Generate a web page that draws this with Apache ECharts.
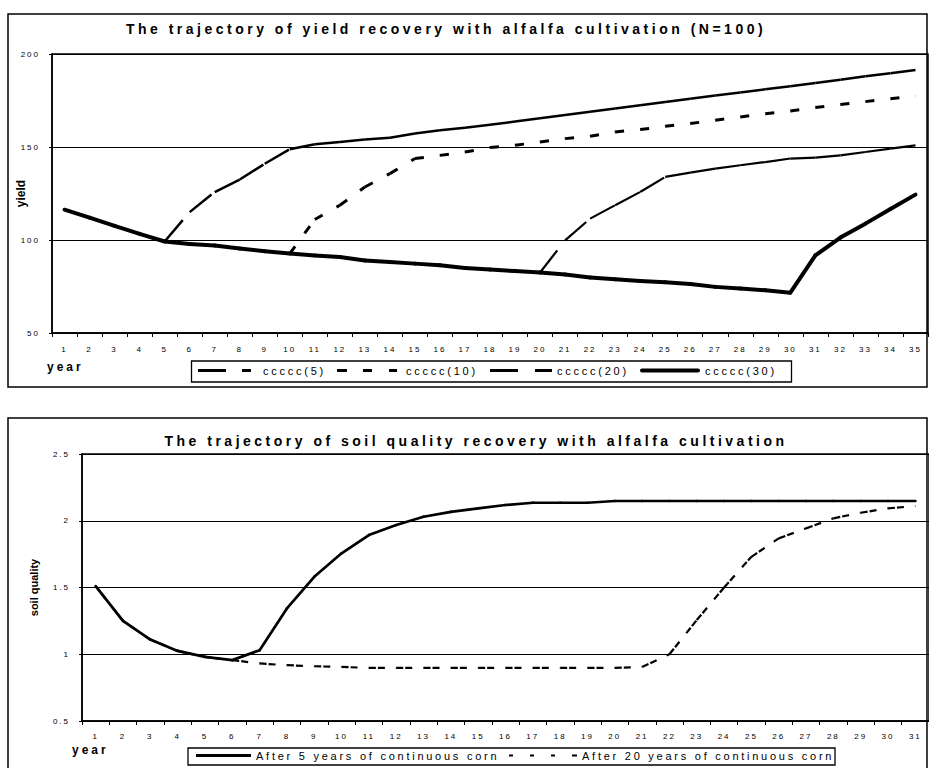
<!DOCTYPE html>
<html>
<head>
<meta charset="utf-8">
<script src="https://cdn.jsdelivr.net/npm/echarts@6/dist/echarts.min.js"></script>
<style>
html,body{margin:0;padding:0;background:#fff;}
#chart{width:929px;height:768px;}
#chart text[style*="Liberation Sans"]{letter-spacing:0.25em;}
</style>
</head>
<body>
<div id="chart"></div>
<script>
// ---------- data ----------
const yearsTop = ['1','2','3','4','5','6','7','8','9','10','11','12','13','14','15','16','17','18','19','20','21','22','23','24','25','26','27','28','29','30','31','32','33','34','35'];
const yieldTicks = [50, 100, 150, 200];
const ccccc5 = [null,null,null,null,99.2,115,125.8,132.5,141,148.8,151.5,152.7,154,155,157.2,159,160.4,162,163.7,165.5,167.2,169,170.7,172.4,174.2,176,177.7,179.3,181,182.7,184.4,186.2,188,189.7,191.4];
const ccccc10 = [null,null,null,null,null,null,null,null,null,92.7,111,118.7,128.5,135.7,143.8,145.5,147.3,149.7,150.9,152.7,154.5,155.8,158.1,159.4,161.1,162.6,164.4,166.1,167.9,169.4,171.2,172.8,174.4,176,177.4];
const ccccc20 = [null,null,null,null,null,null,null,null,null,null,null,null,null,null,null,null,null,null,null,82.5,99.8,111.5,118.7,125.8,133.9,136.2,138.4,140.2,141.9,143.8,144.3,145.5,147.3,149.1,150.9];
const ccccc30 = [116.3,112,107.6,103.3,99.2,97.8,97,95.4,94,92.7,91.7,90.9,89,88.2,87.3,86.4,85,84.1,83.3,82.5,81.4,79.8,78.9,78,77.3,76.4,74.8,73.9,73,71.7,91.7,101.3,108.8,116.7,124.4];

const yearsBottom = ['1','2','3','4','5','6','7','8','9','10','11','12','13','14','15','16','17','18','19','20','21','22','23','24','25','26','27','28','29','30','31'];
const soilTicks = [0.5, 1, 1.5, 2, 2.5];
const after5 = [1.51,1.25,1.11,1.025,0.98,0.956,1.03,1.343,1.58,1.756,1.893,1.968,2.03,2.067,2.093,2.118,2.135,2.135,2.135,2.148,2.148,2.148,2.148,2.148,2.148,2.148,2.148,2.148,2.148,2.148,2.148];
const after20 = [1.51,1.25,1.11,1.025,0.98,0.956,0.931,0.918,0.91,0.905,0.898,0.898,0.898,0.898,0.898,0.898,0.898,0.898,0.898,0.898,0.905,1.0,1.256,1.5,1.73,1.868,1.943,2.018,2.06,2.093,2.11];

const topTitle = 'The trajectory of yield recovery with alfalfa cultivation (N=100)';
const bottomTitle = 'The trajectory of soil quality recovery with alfalfa cultivation';

// ---------- helpers ----------
const SP = 'Liberation Sans';   // letter-spaced texts
const NS = 'Arial, sans-serif'; // un-spaced texts

function segData(vals) {
  const out = [];
  for (let i = 1; i < vals.length; i++) {
    if (vals[i - 1] != null && vals[i] != null) out.push([i, vals[i - 1], vals[i]]);
  }
  return out;
}
function segSeries(name, vals, gi, width, dash, cap) {
  return {
    type: 'custom', name: name, xAxisIndex: gi, yAxisIndex: gi,
    data: segData(vals), encode: { x: 0, y: [1, 2] },
    itemStyle: { color: '#000' }, silent: true,
    renderItem: function (p, api) {
      const i = api.value(0);
      const a = api.coord([i - 1, api.value(1)]);
      const b = api.coord([i, api.value(2)]);
      return {
        type: 'line',
        shape: { x1: a[0], y1: a[1], x2: b[0], y2: b[1] },
        style: { stroke: '#000', fill: null, lineWidth: width, lineDash: dash, lineCap: cap || 'butt' }
      };
    }
  };
}
function legendItem(name, icon, left, top, w, h, pad) {
  return {
    data: [{ name: name, icon: icon }], left: left, top: top, padding: 0,
    itemWidth: w, itemHeight: h, selectedMode: false,
    itemStyle: { borderWidth: 0 },
    textStyle: { fontFamily: SP, fontSize: 11, color: '#000', padding: [0, 0, 0, pad] }
  };
}
function xAx(gi, data, margin) {
  return {
    type: 'category', gridIndex: gi, data: data, boundaryGap: true,
    axisLine: { lineStyle: { color: '#000', width: 1.5 } },
    axisTick: { show: true, length: 4, alignWithLabel: false, lineStyle: { color: '#000', width: 1 } },
    axisLabel: { interval: 0, fontSize: 8, fontFamily: SP, color: '#000', margin: margin },
    splitLine: { show: false }
  };
}
function yAx(gi, ticks, name, nameGap, nameSize) {
  return {
    type: 'value', gridIndex: gi, min: ticks[0], max: ticks[ticks.length - 1], interval: ticks[1] - ticks[0],
    axisLine: { show: true, lineStyle: { color: '#000', width: 1.5 } },
    axisTick: { show: true, length: 3, lineStyle: { color: '#000', width: 1 } },
    axisLabel: { fontSize: 8, fontFamily: SP, color: '#000', margin: 12 },
    splitLine: { show: true, lineStyle: { color: '#000', width: 1.2 } },
    name: name, nameLocation: 'middle', nameGap: nameGap, nameMoveOverlap: false,
    nameTextStyle: { fontFamily: NS, fontWeight: 'bold', fontSize: nameSize, color: '#000' }
  };
}

const chart = echarts.init(document.getElementById('chart'), null, { renderer: 'svg' });
chart.setOption({
  animation: false,
  backgroundColor: '#fff',
  grid: [
    { left: 52, top: 54, width: 876, height: 279, show: true, borderColor: '#000', borderWidth: 1.5 },
    { left: 82, top: 454, width: 849, height: 267, show: true, borderColor: '#000', borderWidth: 1.5 }
  ],
  xAxis: [xAx(0, yearsTop, 12), xAx(1, yearsBottom, 11)],
  yAxis: [yAx(0, yieldTicks, 'yield', 25, 12), yAx(1, soilTicks, 'soil quality', 43, 11)],
  legend: [
    legendItem('ccccc(5)', 'path://M0,0H28V3H0ZM44,0H53V3H44Z', 198, 365, 53, 3, 7),
    legendItem('ccccc(10)', 'path://M0,0H10V3H0ZM26,0H35V3H26ZM52,0H60V3H52Z', 337, 365, 60, 3, 4),
    legendItem('ccccc(20)', 'path://M0,0H28V3H0ZM45,0H62V3H45Z', 490, 365, 62, 3, 0),
    legendItem('ccccc(30)', 'path://M2,0H58A2,2,0,0,1,58,4H2A2,2,0,0,1,2,0Z', 640, 365, 60, 4, 0),
    legendItem('After 5 years of continuous corn', 'path://M0,0H55V3H0Z', 196, 750, 55, 3, 0),
    legendItem('After 20 years of continuous corn', 'path://M0,0H4V2H0ZM21,0H25V2H21ZM42,0H46V2H42ZM63,0H68V2H63Z', 509, 750, 68, 2, 0)
  ],
  series: [
    segSeries('ccccc(5)', ccccc5, 0, 2.5, [28, 16]),
    segSeries('ccccc(10)', ccccc10, 0, 3, [9, 16]),
    segSeries('ccccc(20)', ccccc20, 0, 2.2, [28, 16]),
    segSeries('ccccc(30)', ccccc30, 0, 4, null, 'round'),
    segSeries('After 20 years of continuous corn', after20, 1, 2.2, [7, 2, 7, 11]),
    segSeries('After 5 years of continuous corn', after5, 1, 2.7, null, 'round')
  ],
  graphic: [
    { type: 'rect', silent: true, shape: { x: 8, y: 14, width: 919, height: 373 }, style: { fill: 'none', stroke: '#000', lineWidth: 1.5 } },
    { type: 'rect', silent: true, shape: { x: 8, y: 418, width: 919, height: 352 }, style: { fill: 'none', stroke: '#000', lineWidth: 1.5 } },
    { type: 'rect', silent: true, shape: { x: 191.5, y: 361, width: 600, height: 21 }, style: { fill: 'none', stroke: '#000', lineWidth: 1.3 } },
    { type: 'rect', silent: true, shape: { x: 188, y: 748, width: 647, height: 17 }, style: { fill: 'none', stroke: '#000', lineWidth: 1.3 } },
    { type: 'text', silent: true, x: 446, y: 29, style: { text: topTitle, fontFamily: SP, fontSize: 14, fontWeight: 'bold', fill: '#000', align: 'center', verticalAlign: 'middle' } },
    { type: 'text', silent: true, x: 476, y: 441, style: { text: bottomTitle, fontFamily: SP, fontSize: 14, fontWeight: 'bold', fill: '#000', align: 'center', verticalAlign: 'middle' } },
    { type: 'text', silent: true, x: 47, y: 367, style: { text: 'year', fontFamily: SP, fontSize: 12, fontWeight: 'bold', fill: '#000', align: 'left', verticalAlign: 'middle' } },
    { type: 'text', silent: true, x: 72, y: 750, style: { text: 'year', fontFamily: SP, fontSize: 12, fontWeight: 'bold', fill: '#000', align: 'left', verticalAlign: 'middle' } }
  ]
});
</script>
</body>
</html>
